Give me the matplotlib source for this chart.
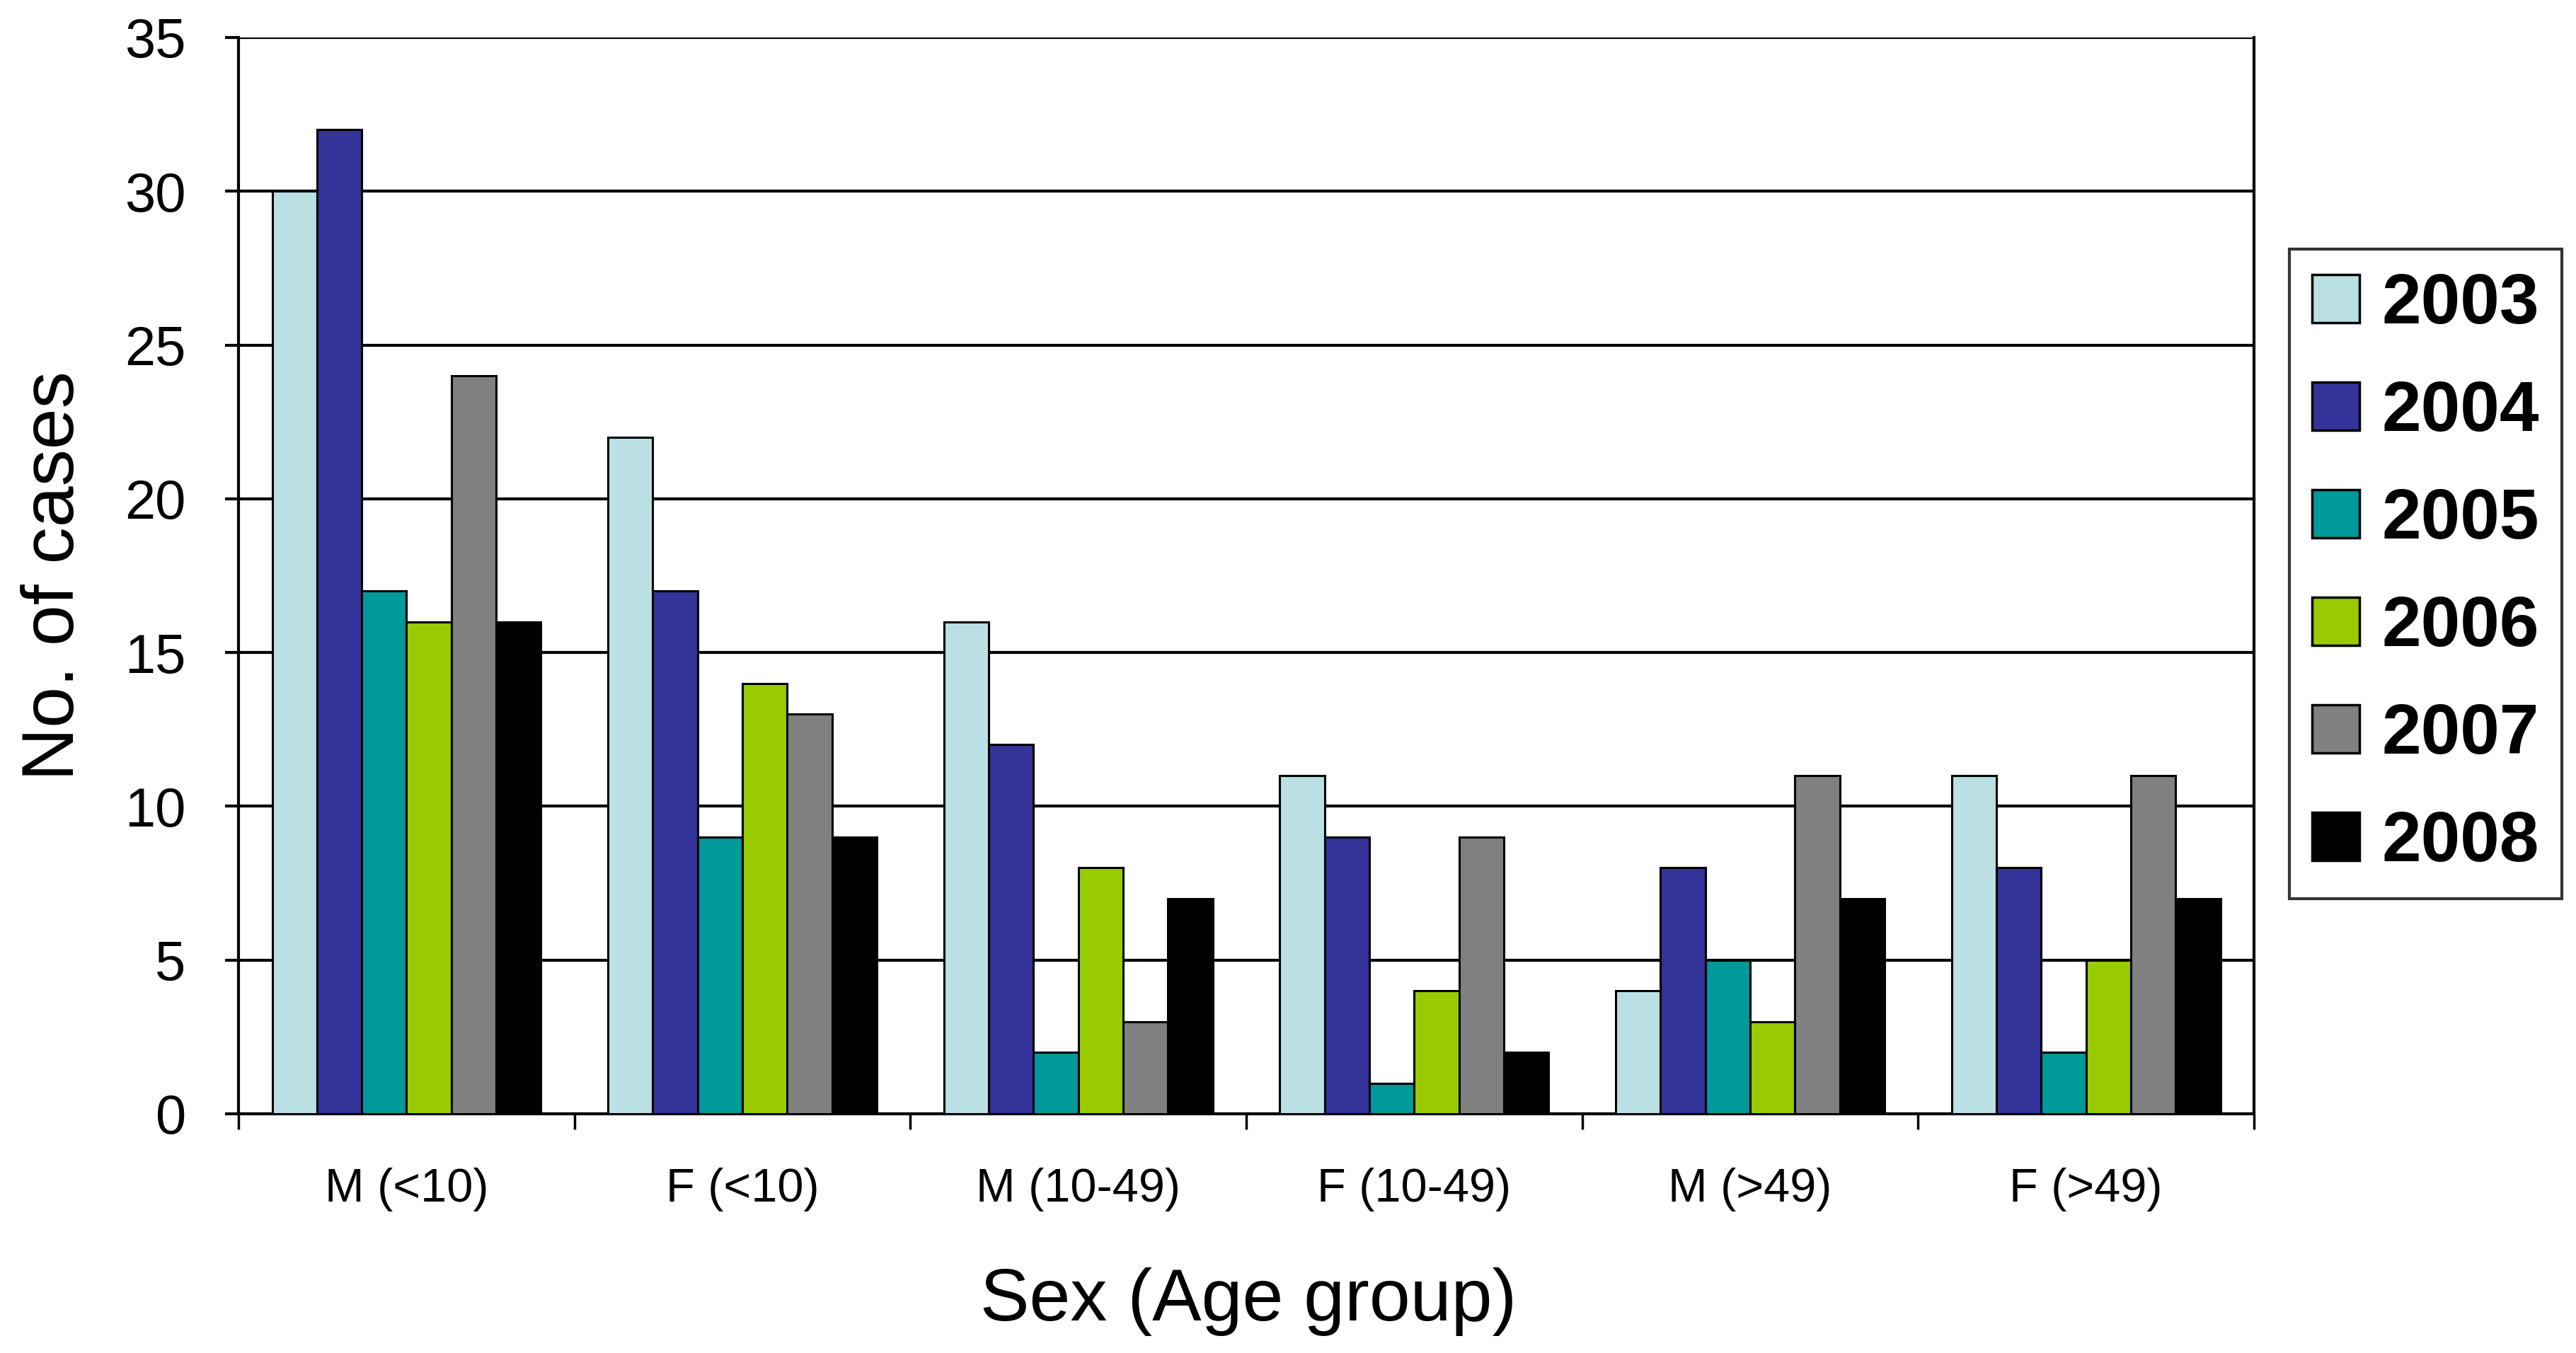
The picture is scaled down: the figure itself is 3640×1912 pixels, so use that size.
import matplotlib
matplotlib.use("Agg")
import matplotlib.pyplot as plt
import numpy as np

categories = ["M (<10)", "F (<10)", "M (10-49)", "F (10-49)", "M (>49)", "F (>49)"]
years = ["2003", "2004", "2005", "2006", "2007", "2008"]
v2003 = [30, 22, 16, 11, 4, 11]
v2004 = [32, 17, 12, 9, 8, 8]
v2005 = [17, 9, 2, 1, 5, 2]
v2006 = [16, 14, 8, 4, 3, 5]
v2007 = [24, 13, 3, 9, 11, 11]
v2008 = [16, 9, 7, 2, 7, 7]
series = [v2003, v2004, v2005, v2006, v2007, v2008]
colors = ["#BBE0E3", "#333399", "#009999", "#99CC00", "#808080", "#000000"]
yticks = [0, 5, 10, 15, 20, 25, 30, 35]

plt.rcParams['font.family'] = ['Liberation Sans', 'DejaVu Sans']

fig = plt.figure(figsize=(36.4, 19.12), dpi=100)
ax = fig.add_axes([0.0926, 0.1768, 0.875 - 0.0926, 0.9723 - 0.1768])

n = len(series)
group_w = 0.8
bw = group_w / n
x = np.arange(len(categories))
for i, (vals, c, yr) in enumerate(zip(series, colors, years)):
    ax.bar(x - group_w / 2 + bw * (i + 0.5), vals, width=bw, color=c,
           edgecolor='black', linewidth=2.2, label=yr, zorder=3)

ax.set_xlim(-0.5, len(categories) - 0.5)
ax.set_ylim(0, 35)
ax.set_yticks(yticks)
ax.yaxis.grid(True, color='black', linewidth=3, zorder=0)
ax.set_axisbelow(True)

ax.set_xticks(x)
ax.set_xticklabels(categories, fontsize=48)
ax.set_xticks(np.arange(len(categories) + 1) - 0.5, minor=True)
ax.tick_params(axis='x', which='major', length=0, pad=55)
ax.tick_params(axis='x', which='minor', length=16, width=2.5, direction='out')
ax.tick_params(axis='y', labelsize=56, length=13.5, width=3, pad=40, direction='out')

ax.spines['top'].set_visible(False)
for s in ['left', 'right', 'bottom']:
    ax.spines[s].set_linewidth(3)
    ax.spines[s].set_color('black')

ax.set_xlabel("Sex (Age group)", fontsize=75)
ax.set_ylabel("No. of cases", fontsize=75)
ax.xaxis.set_label_coords(0.501, -0.143)
ax.yaxis.set_label_coords(-0.074, 0.5)

leg = fig.legend(loc='center left', bbox_to_anchor=(0.8887, 0.576),
                 prop={'size': 72, 'weight': 'bold'}, frameon=True,
                 fancybox=False, edgecolor='black', handlelength=0.67,
                 handleheight=0.67, labelspacing=0.58, handletextpad=0.32,
                 borderpad=0.32, borderaxespad=0)
leg.get_frame().set_linewidth(3)
for p in leg.get_patches():
    p.set_linewidth(2.5)

fig.savefig("out.png", dpi=100, facecolor='white')
